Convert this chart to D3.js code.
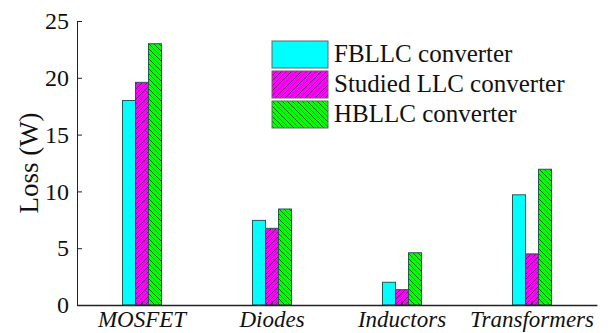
<!DOCTYPE html>
<html lang="en">
<head>
    <meta charset="UTF-8">
    <title>Loss breakdown</title>
    <script src="https://cdn.jsdelivr.net/npm/d3@7"></script>
    <style>
        body { margin: 0; background: #fff; }
    </style>
</head>
<body>
<svg width="611" height="333"></svg>
<script>
    const categories = ["MOSFET", "Diodes", "Inductors", "Transformers"]
    const seriesNames = ["FBLLC converter", "Studied LLC converter", "HBLLC converter"]
    const fbllc = [18.0, 7.45, 2.0, 9.7]
    const studied = [19.6, 6.75, 1.35, 4.5]
    const hbllc = [23.0, 8.45, 4.6, 11.95]
    const yTicks = [0, 5, 10, 15, 20, 25]

    const series = [fbllc, studied, hbllc]
    const fills = ["#00ffff", "url(#hatchFwd)", "url(#hatchBack)"]
    const serif = "Liberation Serif"

    const svg = d3.select("svg")
    const mLeft = 77, mRight = 597, mTop = 21, mBottom = 305

    const defs = svg.append("defs")
    function hatch(id, color, dir) {
        const s = 5
        const p = defs.append("pattern")
            .attr("id", id)
            .attr("patternUnits", "userSpaceOnUse")
            .attr("width", s).attr("height", s)
        p.append("rect").attr("width", s).attr("height", s).attr("fill", color)
        const d = dir > 0
            ? `M-1,${s + 1} L${s + 1},-1 M-${s},${s} L${s},-${s} M0,${2 * s} L${2 * s},0`
            : `M-1,-1 L${s + 1},${s + 1} M-${s},0 L${s},${2 * s} M0,-${s} L${2 * s},${s}`
        p.append("path").attr("d", d).attr("stroke", "#2a2a2a").attr("stroke-width", 0.7)
    }
    hatch("hatchFwd", "#ff00ff", 1)
    hatch("hatchBack", "#00ff00", -1)

    const x = d3.scaleBand().domain(categories).range([mLeft, mRight])
    const y = d3.scaleLinear().domain([0, 25]).range([mBottom, mTop])
    const barW = 13

    categories.forEach((c, i) => {
        const cx = x(c) + x.bandwidth() / 2
        series.forEach((s, k) => {
            svg.append("rect")
                .attr("x", cx - 1.5 * barW + k * barW)
                .attr("y", y(s[i]))
                .attr("width", barW)
                .attr("height", y(0) - y(s[i]))
                .attr("fill", fills[k])
                .attr("stroke", "#2a5555")
                .attr("stroke-width", 1)
        })
    })

    // axes
    const yAxis = svg.append("g")
        .attr("transform", `translate(${mLeft},0)`)
        .call(d3.axisLeft(y).tickValues(yTicks).tickSizeInner(-5).tickSizeOuter(0).tickPadding(8))
    yAxis.attr("font-family", serif).attr("font-size", 24)
    yAxis.select(".domain").attr("stroke", "#222")
    yAxis.selectAll("line").attr("stroke", "#222")
    yAxis.selectAll("text").attr("fill", "#111")

    const xAxis = svg.append("g")
        .attr("transform", `translate(0,${mBottom})`)
        .call(d3.axisBottom(x).tickSizeInner(-4).tickSizeOuter(0).tickPadding(6))
    xAxis.attr("font-family", serif).attr("font-size", 23)
    xAxis.select(".domain").attr("stroke", "#222").attr("stroke-width", 1.5)
    xAxis.selectAll("line").attr("stroke", "#222")
    xAxis.selectAll("text")
        .attr("font-style", "italic")
        .attr("fill", "#111")
        .attr("dy", "0.68em")

    svg.append("text")
        .attr("transform", `translate(38,${(mTop + mBottom) / 2}) rotate(-90)`)
        .attr("text-anchor", "middle")
        .attr("font-family", serif)
        .attr("font-size", 27)
        .attr("fill", "#111")
        .text("Loss (W)")

    // legend
    const legend = svg.append("g").attr("transform", "translate(272,41)")
    seriesNames.forEach((n, k) => {
        const g = legend.append("g").attr("transform", `translate(0,${k * 30})`)
        g.append("rect").attr("width", 56).attr("height", 27)
            .attr("fill", fills[k]).attr("stroke", "#666").attr("stroke-width", 1)
        g.append("text").attr("x", 62).attr("y", 21)
            .attr("font-family", serif).attr("font-size", 25)
            .attr("fill", "#111").text(n)
    })
</script>
</body>
</html>
